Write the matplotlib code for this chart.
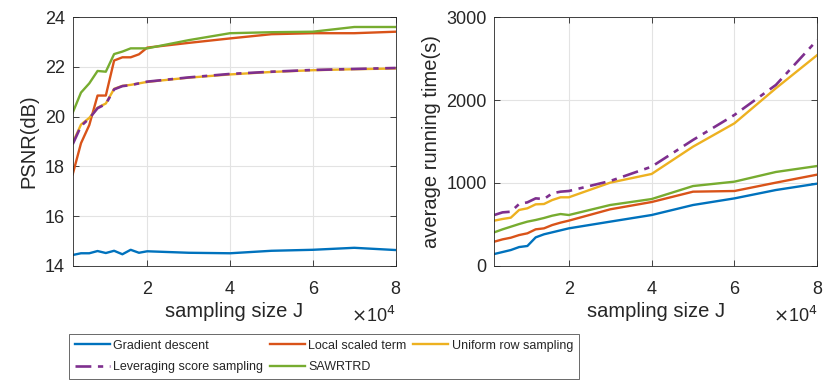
import matplotlib.pyplot as plt
import numpy as np
from matplotlib.ticker import FuncFormatter

plt.rcParams['font.family'] = ['Liberation Sans', 'DejaVu Sans']

# ---------------------- data
J = [2000, 4000, 6000, 8000, 10000, 12000, 14000, 16000, 18000, 20000,
     30000, 40000, 50000, 60000, 70000, 80000]

psnr_gd = [14.43, 14.50, 14.50, 14.59, 14.51, 14.60, 14.46, 14.64, 14.52, 14.58,
           14.52, 14.50, 14.60, 14.64, 14.72, 14.63]
psnr_local = [17.68, 18.93, 19.66, 20.85, 20.85, 22.26, 22.39, 22.39, 22.51, 22.78,
              22.97, 23.15, 23.32, 23.36, 23.36, 23.42]
psnr_uniform = [18.95, 19.68, 19.95, 20.36, 20.53, 21.12, 21.24, 21.28, 21.34, 21.40,
                21.57, 21.70, 21.80, 21.87, 21.91, 21.94]
psnr_lev = [18.89, 19.62, 19.93, 20.34, 20.51, 21.10, 21.23, 21.27, 21.34, 21.41,
            21.58, 21.72, 21.81, 21.88, 21.92, 21.96]
psnr_saw = [20.16, 20.97, 21.34, 21.84, 21.81, 22.52, 22.62, 22.75, 22.75, 22.75,
            23.08, 23.36, 23.40, 23.42, 23.61, 23.61]

time_gd = [141, 165, 189, 225, 238, 342, 379, 403, 427, 451,
           532, 612, 733, 813, 914, 991]
time_local = [290, 318, 338, 370, 391, 439, 451, 491, 520, 544,
              681, 769, 894, 902, 1003, 1100]
time_uniform = [544, 564, 580, 673, 693, 741, 745, 793, 826, 826,
                1003, 1108, 1438, 1720, 2143, 2545]
time_lev = [612, 644, 652, 745, 765, 813, 805, 874, 894, 902,
            1023, 1196, 1519, 1821, 2183, 2727]
time_saw = [403, 439, 471, 503, 532, 552, 576, 604, 624, 612,
            733, 805, 962, 1015, 1132, 1204]

labels = ['Gradient descent', 'Local scaled term', 'Uniform row sampling',
          'Leveraging score sampling', 'SAWRTRD']
colors = ['#0072BD', '#D95319', '#EDB120', '#7E2F8E', '#77AC30']
txt = '#262626'


def draw(ax, series, ylab, ypad):
    lines = []
    for k, y in enumerate(series):
        if k == 3:
            l, = ax.plot(J, y, color=colors[k], lw=1.9, dashes=(6, 2.5, 2, 2.5))
        else:
            l, = ax.plot(J, y, color=colors[k], lw=1.7)
        lines.append(l)
    ax.set_xlim(2000, 80000)
    ax.set_xticks([20000, 40000, 60000, 80000])
    ax.xaxis.set_major_formatter(FuncFormatter(lambda v, p: '%d' % round(v / 1e4)))
    ax.grid(True, color='#e3e3e3', lw=0.8)
    ax.set_axisbelow(True)
    ax.tick_params(direction='in', top=True, right=True, labelsize=13,
                   colors=txt, length=4, width=0.6)
    ax.tick_params(axis='x', pad=11)
    ax.tick_params(axis='y', pad=5.5)
    for s in ax.spines.values():
        s.set_color(txt)
        s.set_linewidth(0.6)
    ax.set_xlabel('sampling size J', fontsize=14.5, color=txt, labelpad=3)
    ax.set_ylabel(ylab, fontsize=14.5, color=txt, labelpad=ypad)
    ax.text(1.0, -0.227, r'$\times$10$^4$', transform=ax.transAxes, ha='right',
            va='baseline', fontsize=13, color=txt)
    return lines


fig = plt.figure(figsize=(8.3, 3.89), dpi=100)
ax1 = fig.add_axes([0.0876, 0.317, 0.3891, 0.6385])
ax2 = fig.add_axes([0.5955, 0.317, 0.3892, 0.6385])

lines = draw(ax1, [psnr_gd, psnr_local, psnr_uniform, psnr_lev, psnr_saw], 'PSNR(dB)', 5)
ax1.set_ylim(14, 24)
ax1.set_yticks([14, 16, 18, 20, 22, 24])

draw(ax2, [time_gd, time_local, time_uniform, time_lev, time_saw],
     'average running time(s)', 3.5)
ax2.set_ylim(0, 3000)
ax2.set_yticks([0, 1000, 2000, 3000])

order = [0, 3, 1, 4, 2]
leg = fig.legend([lines[i] for i in order], [labels[i] for i in order], ncol=3,
                 loc='upper left', bbox_to_anchor=(69 / 830, 1 - 334 / 389),
                 fontsize=9.0, frameon=True, fancybox=False, edgecolor=txt,
                 handlelength=2.8, handletextpad=0.3, columnspacing=0.5,
                 borderpad=0.45, labelspacing=0.78, borderaxespad=0)
leg.get_frame().set_linewidth(0.6)
for t in leg.get_texts():
    t.set_color(txt)

fig.savefig('out.png', dpi=100, facecolor='white')
